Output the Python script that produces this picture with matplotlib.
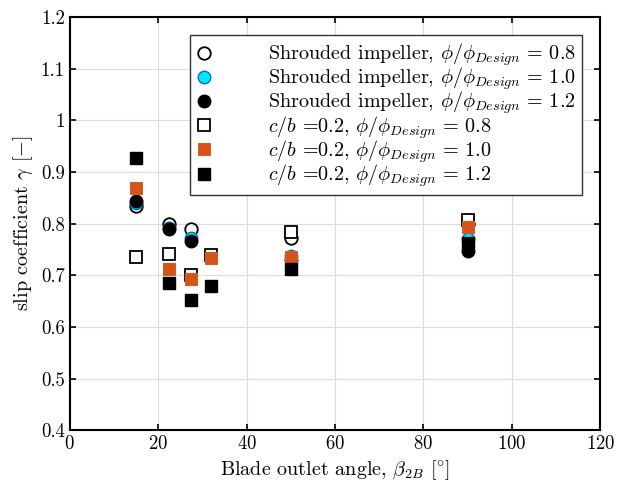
import matplotlib
matplotlib.use('Agg')
import matplotlib.pyplot as plt
from matplotlib.ticker import FuncFormatter, MultipleLocator

plt.rcParams['font.family'] = 'serif'
plt.rcParams['font.serif'] = ['cmr10', 'DejaVu Serif']
plt.rcParams['mathtext.fontset'] = 'cm'
plt.rcParams['axes.formatter.use_mathtext'] = True

# Blade outlet angles
beta_shrouded = [15, 22.5, 27.5, 50, 90]
beta_cb = [15, 22.5, 27.5, 32, 50, 90]

# Slip coefficient, shrouded impeller
shr_08 = [0.834, 0.800, 0.789, 0.773, 0.800]
shr_10 = [0.840, 0.792, 0.772, 0.738, 0.770]
shr_12 = [0.843, 0.789, 0.767, 0.730, 0.748]

# Slip coefficient, c/b = 0.2
cb_08 = [0.736, 0.742, 0.700, 0.739, 0.783, 0.808]
cb_10 = [0.870, 0.713, 0.692, 0.734, 0.736, 0.793]
cb_12 = [0.928, 0.686, 0.653, 0.680, 0.712, 0.763]

orange = '#D95319'

fig, ax = plt.subplots(figsize=(6.17, 4.90), dpi=100)

ax.plot(beta_shrouded, shr_08, 'o', ms=9, mfc='white', mec='black', mew=1.3,
        label=r'Shrouded impeller, $\phi/\phi_{Design}\,=\,0.8$')
ax.plot(beta_shrouded, shr_10, 'o', ms=9, mfc='#00e8ff', mec='#0072BD', mew=1.0,
        label=r'Shrouded impeller, $\phi/\phi_{Design}\,=\,1.0$')
ax.plot(beta_shrouded, shr_12, 'o', ms=9, mfc='black', mec='black', mew=1.0,
        label=r'Shrouded impeller, $\phi/\phi_{Design}\,=\,1.2$')
ax.plot(beta_cb, cb_08, 's', ms=8, mfc='white', mec='black', mew=1.3,
        label=r'$c/b$ =0.2, $\phi/\phi_{Design}\,=\,0.8$')
ax.plot(beta_cb, cb_10, 's', ms=8, mfc=orange, mec='#c8642a', mew=0.8,
        label=r'$c/b$ =0.2, $\phi/\phi_{Design}\,=\,1.0$')
ax.plot(beta_cb, cb_12, 's', ms=8, mfc='black', mec='black', mew=1.0,
        label=r'$c/b$ =0.2, $\phi/\phi_{Design}\,=\,1.2$')

ax.set_xlim(0, 120)
ax.set_ylim(0.4, 1.2)
ax.xaxis.set_major_locator(MultipleLocator(20))
ax.yaxis.set_major_locator(MultipleLocator(0.1))
ax.yaxis.set_major_formatter(FuncFormatter(lambda v, p: '%g' % round(v, 2)))
ax.grid(True, color='#dcdcdc', lw=0.8)
ax.set_axisbelow(True)
ax.tick_params(direction='in', length=4, width=1.2, labelsize=13.5, top=True, right=True)
for s in ax.spines.values():
    s.set_linewidth(1.5)

ax.set_xlabel(r'Blade outlet angle, $\beta_{2B}$ $[^{\circ}]$', fontsize=14.5)
ax.set_ylabel(r'slip coefficient $\gamma$ $[-]$', fontsize=14.5)

leg = ax.legend(loc='upper right', bbox_to_anchor=(0.966, 0.956), borderaxespad=0,
                fontsize=14.5, handletextpad=2.8, handlelength=0.8, borderpad=0.3,
                labelspacing=-0.12, fancybox=False, framealpha=1, edgecolor='#333333')
leg.get_frame().set_linewidth(1.0)

fig.subplots_adjust(left=0.113, right=0.973, top=0.965, bottom=0.122)
fig.savefig('out.png', dpi=100)
